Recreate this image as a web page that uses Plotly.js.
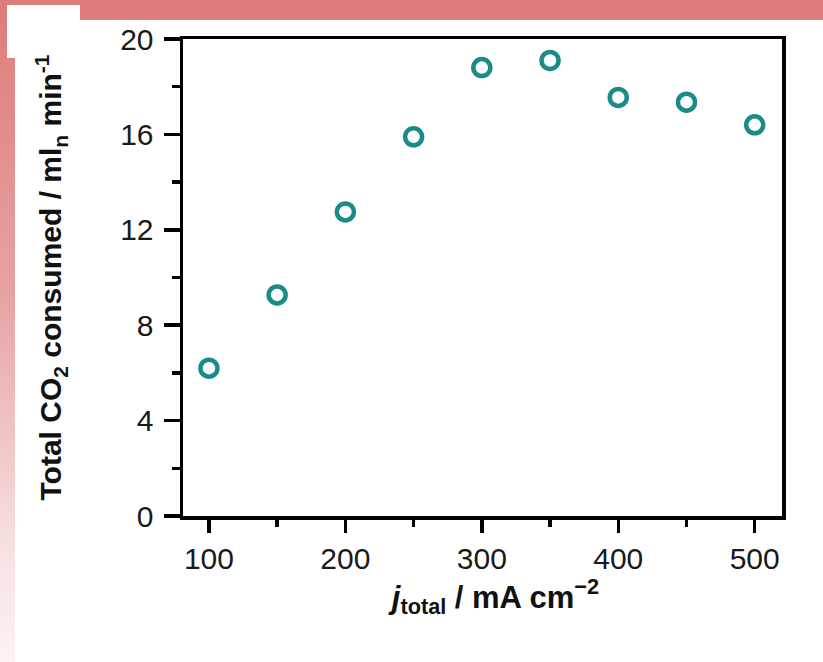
<!DOCTYPE html>
<html>
<head>
<meta charset="utf-8">
<script src="https://cdn.plot.ly/plotly-3.0.1.min.js"></script>
<style>
  html, body { margin: 0; padding: 0; background: #ffffff; }
  #wrap { position: relative; width: 823px; height: 662px; overflow: hidden; }
  #band { position: absolute; left: 0; top: 0; width: 823px; height: 20px; background: #DF7B7B; }
  #strip { position: absolute; left: 0; top: 0; width: 15px; height: 662px;
           background: linear-gradient(to bottom, #DF7B7B 0%, #E7A3A3 45%, #F8E4E4 85%, #FCF2F2 100%); }
  #box { position: absolute; left: 7px; top: 5px; width: 73px; height: 53px; background: #ffffff; }
  #chart { position: absolute; left: 0; top: 0; width: 823px; height: 662px; }
</style>
</head>
<body>
<div id="wrap">
  <div id="band"></div>
  <div id="strip"></div>
  <div id="box"></div>
  <div id="chart"></div>
</div>
<script>
const currentDensity = [100, 150, 200, 250, 300, 350, 400, 450, 500];
const co2Consumed = [6.2, 9.27, 12.75, 15.9, 18.8, 19.1, 17.55, 17.35, 16.4];
const xTickValues = [100, 200, 300, 400, 500];
const yTickValues = [0, 4, 8, 12, 16, 20];

const font = "Liberation Sans, Arial, Helvetica, sans-serif";

const trace = {
  x: currentDensity,
  y: co2Consumed,
  type: 'scatter',
  mode: 'markers',
  marker: {
    symbol: 'circle-open',
    size: 17,
    color: '#1B8B89',
    line: { width: 4.5, color: '#1B8B89' }
  },
  hoverinfo: 'x+y',
  showlegend: false
};

const layout = {
  width: 823,
  height: 662,
  paper_bgcolor: 'rgba(0,0,0,0)',
  plot_bgcolor: 'rgba(0,0,0,0)',
  margin: { l: 183, r: 41, t: 39, b: 146, pad: 0 },
  showlegend: false,
  xaxis: {
    range: [81, 520],
    tickmode: 'array',
    tickvals: xTickValues,
    ticktext: xTickValues.map(String),
    ticks: 'outside',
    ticklen: 13,
    tickwidth: 3.5,
    tickcolor: '#000',
    showline: true,
    linewidth: 3.5,
    linecolor: '#000',
    mirror: true,
    showgrid: false,
    zeroline: false,
    tickfont: { family: font, size: 30, color: '#1a1a1a' },
    minor: { dtick: 50, tick0: 0, ticks: 'outside', ticklen: 7, tickwidth: 3.5, tickcolor: '#000', showgrid: false },
    title: {
      text: '<b>&nbsp;&nbsp;&nbsp;<i>j</i><sub>total</sub> / mA cm<sup>−2</sup></b>',
      font: { family: font, size: 31, color: '#111' },
      standoff: 12
    },
    automargin: false
  },
  yaxis: {
    range: [0, 20],
    tickmode: 'array',
    tickvals: yTickValues,
    ticktext: yTickValues.map(String),
    ticks: 'outside',
    ticklen: 16,
    tickwidth: 3.5,
    tickcolor: '#000',
    showline: true,
    linewidth: 3.5,
    linecolor: '#000',
    mirror: true,
    showgrid: false,
    zeroline: false,
    ticklabelstandoff: 4,
    tickfont: { family: font, size: 30, color: '#1a1a1a' },
    minor: { dtick: 2, tick0: 0, ticks: 'outside', ticklen: 8, tickwidth: 3.5, tickcolor: '#000', showgrid: false },
    title: {
      text: '<b>Total CO<sub>2</sub> consumed / ml<sub>n</sub> min<sup>-1</sup></b>',
      font: { family: font, size: 30, color: '#111' },
      standoff: 50
    },
    automargin: false
  }
};

Plotly.newPlot('chart', [trace], layout, { displayModeBar: false, staticPlot: true });
</script>
</body>
</html>
